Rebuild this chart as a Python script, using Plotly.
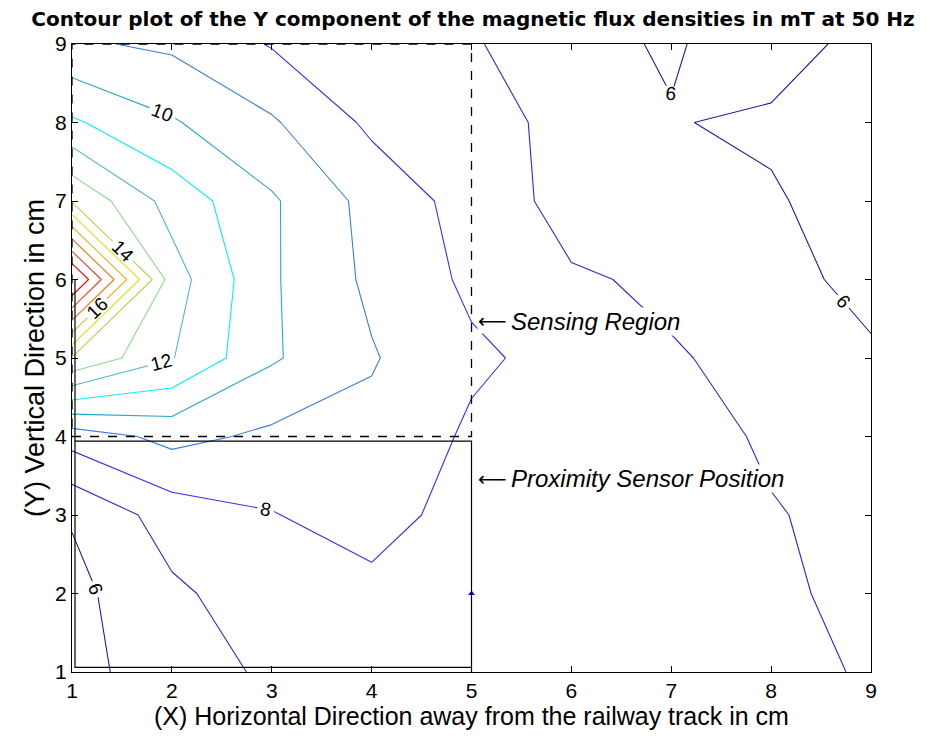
import plotly.graph_objects as go

# grid coordinates (cm)
x_cm = [1, 2, 3, 4, 5, 6, 7, 8, 9]
y_cm = [1, 2, 3, 4, 5, 6, 7, 8, 9]

# Y component of flux density (mT), one list per row y = 1 .. 9 (values along x = 1 .. 9)
by_y1 = [5.69, 6.50, 7.17, 7.40, 7.50, 7.50, 7.40, 7.30, 6.90]
by_y2 = [5.72, 6.82, 7.54, 7.67, 7.70, 7.60, 7.50, 7.30, 6.55]
by_y3 = [6.08, 7.47, 7.95, 8.50, 7.50, 7.60, 7.40, 7.10, 6.54]
by_y4 = [8.43, 9.30, 8.80, 8.73, 7.85, 7.60, 7.70, 6.77, 6.40]
by_y5 = [13.95, 12.05, 10.12, 9.08, 8.16, 7.69, 7.06, 6.79, 6.20]
by_y6 = [20.30, 12.46, 10.12, 8.79, 7.81, 7.10, 6.86, 6.50, 5.56]
by_y7 = [13.90, 11.60, 10.13, 8.66, 7.61, 6.64, 6.60, 6.20, 5.09]
by_y8 = [11.14, 10.10, 9.12, 7.80, 7.50, 6.62, 6.09, 5.70, 5.00]
by_y9 = [9.14, 8.82, 7.93, 7.50, 7.08, 6.46, 5.83, 6.90, 5.32]
flux = [by_y1, by_y2, by_y3, by_y4, by_y5, by_y6, by_y7, by_y8, by_y9]

# contour levels and their line colours
labelled_levels = [6, 8, 10, 12, 14, 16, 18]
plain_levels = [7, 9, 11, 13, 15, 17, 19]
level_colors = {
    6: '#1c1c9c', 7: '#2a2ad6', 8: '#2f2fff', 9: '#3a7fdc', 10: '#22a8cc',
    11: '#00f0ff', 12: '#4ab8c8', 13: '#8cd88c', 14: '#b4d85a', 15: '#e6e022',
    16: '#f0b020', 17: '#f07a20', 18: '#f04020', 19: '#ff0000',
}

tick_vals = [1, 2, 3, 4, 5, 6, 7, 8, 9]

title_text = 'Contour plot of the Y component of the magnetic flux densities in mT at 50 Hz'
x_title = '(X) Horizontal Direction away from the railway track in cm'
y_title = '(Y) Vertical Direction in cm'

# annotation texts and their anchor heights (cm)
note_texts = ['Sensing Region', 'Proximity Sensor Position']
note_y = [5.47, 3.46]

# sensing region / proximity sensor boxes (data coords)
sensing_box = dict(x0=1, x1=5, y0=4, y1=9)
sensor_box = dict(x0=1.03, x1=5, y0=1.06, y1=3.94)
sensor_point_x = [5]
sensor_point_y = [2]


def scale_for(levels):
    lo, hi = levels[0], levels[-1]
    return [[(lv - lo) / (hi - lo), level_colors[lv]] for lv in levels]


fig = go.Figure()
for levels, labels in ((plain_levels, False), (labelled_levels, True)):
    fig.add_trace(go.Contour(
        x=x_cm, y=y_cm, z=flux,
        autocontour=False,
        contours=dict(start=levels[0], end=levels[-1], size=2, coloring='lines',
                      showlabels=labels,
                      labelfont=dict(size=19, color='black', family='Liberation Sans')),
        colorscale=scale_for(levels),
        line=dict(width=1.1, smoothing=0),
        showscale=False,
        hoverinfo='skip',
    ))

fig.add_trace(go.Scatter(x=sensor_point_x, y=sensor_point_y, mode='markers',
                         marker=dict(symbol='triangle-up', size=6, color='#1010e0'),
                         showlegend=False, hoverinfo='skip'))

line_black = dict(color='black', width=1.2)
fig.add_shape(type='rect', xref='x', yref='y', **sensing_box,
              line=dict(color='black', width=1.3, dash='dash'))
fig.add_shape(type='rect', xref='x', yref='y', **sensor_box, line=line_black)
fig.add_shape(type='line', xref='x', yref='y', x0=sensor_box['x0'], x1=sensor_box['x0'],
              y0=sensor_box['y1'], y1=6, line=line_black)
fig.add_shape(type='line', xref='x', yref='y', x0=5, x1=5, y0=1, y1=sensor_box['y0'],
              line=line_black)

ann_font = dict(family='Liberation Sans', size=24, color='black')
arrow_font = dict(family='DejaVu Sans', size=20, color='black')
for txt, yy in zip(note_texts, note_y):
    fig.add_annotation(x=5.06, y=yy, xref='x', yref='y', xanchor='left', yanchor='middle',
                       text='\u27f5', showarrow=False, font=arrow_font,
                       bgcolor='white', borderpad=0)
    fig.add_annotation(x=5.39, y=yy, xref='x', yref='y', xanchor='left', yanchor='middle',
                       text='<i>' + txt + '</i>', showarrow=False, font=ann_font,
                       bgcolor='white', borderpad=0)

axis_common = dict(range=[1, 9], tickvals=tick_vals, ticks='inside', ticklen=6,
                   tickcolor='black', showline=True, linecolor='black', linewidth=1.2,
                   mirror='ticks', showgrid=False, zeroline=False,
                   tickfont=dict(family='Liberation Sans', size=21, color='black'))

fig.update_layout(
    width=930, height=742,
    margin=dict(l=64, r=67, t=36, b=78),
    paper_bgcolor='white', plot_bgcolor='white',
    showlegend=False,
    title=dict(text='<b>' + title_text + '</b>', x=0.5, xref='container', xanchor='center',
               y=1 - 11 / 742, yanchor='middle',
               font=dict(family='DejaVu Sans', size=20, color='black')),
    xaxis=dict(**axis_common,
               title=dict(text=x_title, standoff=6,
                          font=dict(family='Liberation Sans', size=25, color='black'))),
    yaxis=dict(**axis_common,
               title=dict(text=y_title, standoff=2,
                          font=dict(family='Liberation Sans', size=27, color='black'))),
)

fig.write_html('out.html')
